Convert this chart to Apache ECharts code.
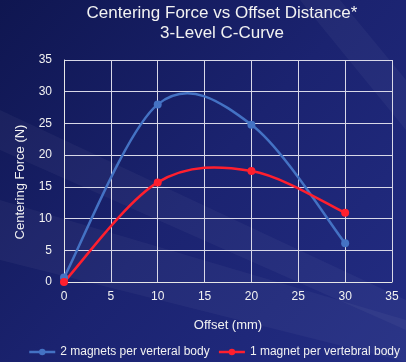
<!DOCTYPE html>
<html><head><meta charset="utf-8">
<script src="https://cdn.jsdelivr.net/npm/echarts@6/dist/echarts.min.js"></script>
<style>html,body{margin:0;padding:0;}#c{width:406px;height:362px;}</style>
</head><body><div id="c"></div>
<script>
var offsets = [0, 10, 20, 30];
var twoMagnets = [0.7, 28.0, 24.8, 6.1];
var oneMagnet = [0, 15.7, 17.5, 10.9];
var seriesNames = ['2 magnets per verteral body', '1 magnet per vertebral body'];
var titleLines = ['Centering Force vs Offset Distance*', '3-Level C-Curve'];
var axisTicks = [0, 5, 10, 15, 20, 25, 30, 35];

function pairs(xs, ys){ return xs.map(function(x,i){ return [x, ys[i]]; }); }

// Smooth curve segment (Catmull-Rom style Bezier, like spreadsheet "smoothed line")
function curveRenderer(xs, ys, color){
  return function(params, api){
    var i = params.dataIndex;
    var n = xs.length;
    if (i >= n - 1) return null;
    var p = function(k){ k = Math.max(0, Math.min(n - 1, k)); return api.coord([xs[k], ys[k]]); };
    var p0 = p(i - 1), p1 = p(i), p2 = p(i + 1), p3 = p(i + 2);
    return {
      type: 'bezierCurve',
      shape: {
        x1: p1[0], y1: p1[1], x2: p2[0], y2: p2[1],
        cpx1: p1[0] + (p2[0] - p0[0]) / 6, cpy1: p1[1] + (p2[1] - p0[1]) / 6,
        cpx2: p2[0] - (p3[0] - p1[0]) / 6, cpy2: p2[1] - (p3[1] - p1[1]) / 6
      },
      style: {stroke: color, lineWidth: 2.5, fill: null},
      silent: true
    };
  };
}

var blue = '#4472c4', red = '#ff1f2e';
var chart = echarts.init(document.getElementById('c'));
var font = 'Liberation Sans, Arial, sans-serif';
chart.setOption({
  backgroundColor: {
    type: 'linear', x: 0, y: 0, x2: 1, y2: 1,
    colorStops: [
      {offset: 0, color: '#0f1650'},
      {offset: 0.5, color: '#1b2370'},
      {offset: 1, color: '#232d84'}
    ]
  },
  graphic: [
    {type: 'polygon', silent: true, z: -1, shape: {points: [[0,110],[406,300],[406,330],[0,150]]}, style: {fill: 'rgba(255,255,255,0.04)'}},
    {type: 'polygon', silent: true, z: -1, shape: {points: [[0,200],[406,320],[406,362],[0,260]]}, style: {fill: 'rgba(255,255,255,0.04)'}},
    {type: 'polygon', silent: true, z: -1, shape: {points: [[300,0],[340,0],[406,80],[406,130]]}, style: {fill: 'rgba(255,255,255,0.04)'}}
  ],
  title: {
    text: titleLines.map(function(t){ return '{a|' + t + '}'; }).join('\n'),
    left: 82, top: 3, padding: 0,
    textStyle: {
      fontWeight: 'normal',
      rich: {a: {color: '#f2f2f2', fontSize: 17, fontWeight: 'normal', fontFamily: font, lineHeight: 20, width: 280, align: 'center'}}
    }
  },
  legend: {
    bottom: 4, left: 28, padding: 0, itemWidth: 26, itemHeight: 8, itemGap: 8,
    textStyle: {color: '#f2f2f2', fontSize: 12, fontFamily: font},
    data: [
      {name: seriesNames[0], lineStyle: {opacity: 1, width: 2.5, color: blue}},
      {name: seriesNames[1], lineStyle: {opacity: 1, width: 2.5, color: red}}
    ]
  },
  grid: {left: 64, right: 14, top: 60, bottom: 80, containLabel: false},
  xAxis: {
    type: 'value', min: axisTicks[0], max: axisTicks[axisTicks.length - 1], interval: 5,
    name: 'Offset (mm)', nameLocation: 'middle', nameGap: 37,
    nameTextStyle: {color: '#f2f2f2', fontSize: 13, fontFamily: font},
    axisLine: {show: true, lineStyle: {color: '#e6e6e6', width: 1}},
    axisTick: {show: false},
    axisLabel: {color: '#f2f2f2', fontSize: 12, fontFamily: font, margin: 9},
    splitLine: {show: true, lineStyle: {color: '#d8d8e8', width: 1}}
  },
  yAxis: {
    type: 'value', min: axisTicks[0], max: axisTicks[axisTicks.length - 1], interval: 5,
    name: 'Centering Force (N)', nameLocation: 'middle', nameGap: 37,
    nameTextStyle: {color: '#f2f2f2', fontSize: 13, fontFamily: font, padding: [0, 22, 0, 0]},
    axisLine: {show: true, lineStyle: {color: '#e6e6e6', width: 1}},
    axisTick: {show: false},
    axisLabel: {color: '#f2f2f2', fontSize: 12, fontFamily: font, margin: 12},
    splitLine: {show: true, lineStyle: {color: '#d8d8e8', width: 1}}
  },
  series: [
    {
      name: seriesNames[0], type: 'line', z: 3,
      data: pairs(offsets, twoMagnets),
      symbol: 'circle', symbolSize: 8,
      lineStyle: {color: blue, width: 2.5, opacity: 0},
      itemStyle: {color: blue}
    },
    {
      name: seriesNames[1], type: 'line', z: 3,
      data: pairs(offsets, oneMagnet),
      symbol: 'circle', symbolSize: 8,
      lineStyle: {color: red, width: 2.5, opacity: 0},
      itemStyle: {color: red}
    },
    {
      name: 'curve-blue', type: 'custom', z: 2,
      data: pairs(offsets, twoMagnets),
      encode: {x: 0, y: 1},
      renderItem: curveRenderer(offsets, twoMagnets, blue)
    },
    {
      name: 'curve-red', type: 'custom', z: 2,
      data: pairs(offsets, oneMagnet),
      encode: {x: 0, y: 1},
      renderItem: curveRenderer(offsets, oneMagnet, red)
    }
  ]
});
</script></body></html>
